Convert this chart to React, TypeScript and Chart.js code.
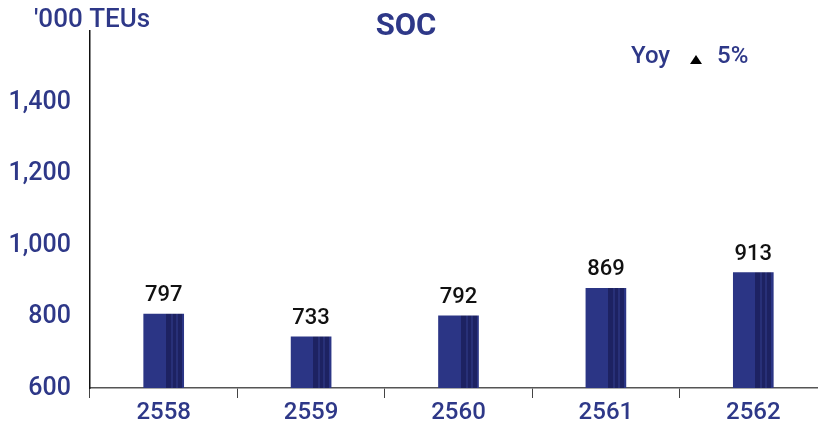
import React, { useEffect, useRef } from "react";
import { Chart, registerables } from "chart.js";

Chart.register(...registerables);

const categories = ["2558", "2559", "2560", "2561", "2562"];
const values = [797, 733, 792, 869, 913];
const yTicks = [600, 800, 1000, 1200, 1400];
const unitLabel = "'000 TEUs";
const titleText = "SOC";
const yoyLabel = "Yoy";
const yoyValue = "5%";

const NAVY = "#2e3888";
const BAR = "#2b3585";
const DARK = "#1d2262";
const MID = "#283078";
const FONT = "Roboto, 'DejaVu Sans', sans-serif";
const BAR_W = 40;

export default function App() {
  const ref = useRef<HTMLCanvasElement>(null);
  useEffect(() => {
    if (!ref.current) return;
    const overlay = {
      id: "overlay",
      afterDatasetsDraw(chart: any) {
        const c = chart.ctx;
        c.save();
        // y tick labels
        const ys = chart.scales.y;
        c.fillStyle = NAVY;
        c.font = `500 25px ${FONT}`;
        c.textAlign = "right";
        c.textBaseline = "middle";
        yTicks.forEach((v) => {
          c.fillText(v.toLocaleString("en-US"), 71, ys.getPixelForValue(v) + 4);
        });
        // value labels
        const meta = chart.getDatasetMeta(0);
        c.fillStyle = "#111";
        c.font = `500 22px ${FONT}`;
        c.textAlign = "center";
        c.textBaseline = "alphabetic";
        meta.data.forEach((el: any, i: number) => {
          c.fillText(String(values[i]), el.x, el.y - 13);
        });
        c.fillStyle = NAVY;
        c.font = `500 26px ${FONT}`;
        c.textAlign = "left";
        c.textBaseline = "middle";
        c.fillText(unitLabel, 34, 20);
        c.font = `bold 31px ${FONT}`;
        c.textAlign = "center";
        c.fillText(titleText, 406, 27);
        c.font = `500 24px ${FONT}`;
        c.textAlign = "left";
        c.fillText(yoyLabel, 631, 57);
        c.fillText(yoyValue, 717, 57);
        c.fillStyle = "#000";
        c.beginPath();
        c.moveTo(690, 64);
        c.lineTo(702, 64);
        c.lineTo(696, 55);
        c.closePath();
        c.fill();
        c.restore();
      },
    };
    const chart = new Chart(ref.current, {
      type: "bar",
      data: {
        labels: categories,
        datasets: [
          {
            data: values,
            barThickness: BAR_W,
            borderWidth: 0,
            backgroundColor: (ctx: any) => {
              const ch = ctx.chart;
              if (!ch.chartArea || !ch.scales.x) return BAR;
              const cx = ch.scales.x.getPixelForValue(ctx.dataIndex);
              const l = cx - BAR_W / 2;
              const g = ch.ctx.createLinearGradient(l, 0, l + BAR_W, 0);
              const stops: [number, string][] = [
                [0, BAR], [22, BAR], [22, DARK], [27, DARK], [27, MID], [29, MID],
                [29, DARK], [32, DARK], [32, MID], [34, MID], [34, DARK], [38, DARK],
                [38, BAR], [40, BAR],
              ];
              stops.forEach(([p, col]) => g.addColorStop(p / BAR_W, col));
              return g;
            },
          },
        ],
      },
      options: {
        animation: false,
        responsive: false,
        maintainAspectRatio: false,
        layout: { padding: { top: 31, right: 3, left: 0, bottom: 0 } },
        plugins: { legend: { display: false }, tooltip: { enabled: false }, title: { display: false } },
        scales: {
          x: {
            offset: true,
            grid: { display: true, drawOnChartArea: false, drawTicks: true, tickLength: 10, color: "#444", offset: true },
            border: { display: true, color: "#555", width: 1.5 },
            ticks: { color: NAVY, font: { family: FONT, size: 24, weight: 500 }, padding: 1 },
            afterFit: (s: any) => { s.height = 37; },
          },
          y: {
            min: 590,
            max: 1590,
            grid: { display: false, drawTicks: false },
            border: { display: true, color: "#111", width: 1.5 },
            ticks: { display: false },
            afterBuildTicks: (s: any) => { s.ticks = yTicks.map((v) => ({ value: v })); },
            afterFit: (s: any) => { s.width = 90; },
          },
        },
      },
      plugins: [overlay],
    });
    return () => chart.destroy();
  }, []);
  return (
    <div style={{ position: "fixed", left: 0, top: 0, width: 818, height: 425, overflow: "hidden", background: "#fff" }}>
      <canvas ref={ref} width={830} height={425} style={{ display: "block" }} />
    </div>
  );
}
